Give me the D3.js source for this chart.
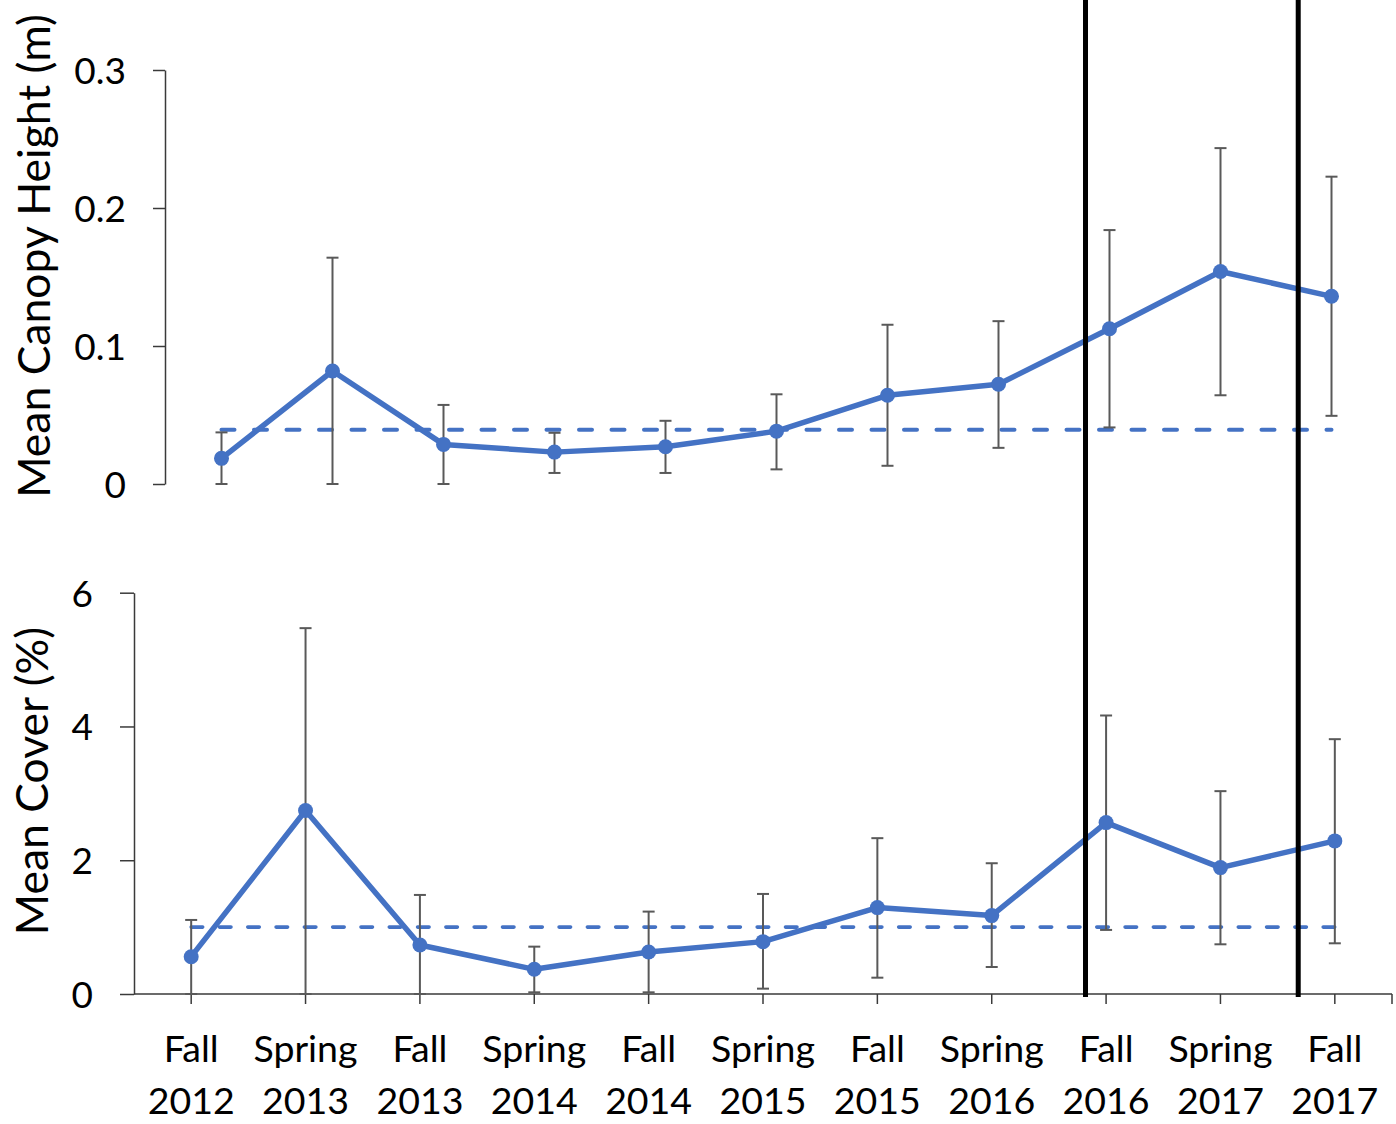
<!DOCTYPE html>
<html>
<head>
<meta charset="utf-8">
<script src="https://cdn.jsdelivr.net/npm/d3@7"></script>
<style>
  html, body { margin: 0; padding: 0; background: #fff; }
  svg { display: block; font-family: Lato, "Open Sans", sans-serif; }
</style>
</head>
<body>
<svg id="chart" width="1396" height="1124"></svg>
<script>
// ---- data ----
const seasons = ["Fall", "Spring", "Fall", "Spring", "Fall", "Spring", "Fall", "Spring", "Fall", "Spring", "Fall"];
const years   = ["2012", "2013", "2013", "2014", "2014", "2015", "2015", "2016", "2016", "2017", "2017"];

const heightMean = [0.0186, 0.0819, 0.0287, 0.0231, 0.0270, 0.0383, 0.0643, 0.0723, 0.1125, 0.1540, 0.1360];
const heightLow  = [0.0000, 0.0000, 0.0000, 0.0080, 0.0080, 0.0106, 0.0132, 0.0262, 0.0410, 0.0643, 0.0494];
const heightHigh = [0.0374, 0.1640, 0.0573, 0.0371, 0.0458, 0.0650, 0.1154, 0.1180, 0.1840, 0.2434, 0.2227];
const heightRef  = 0.0393;
const heightTicks = [0, 0.1, 0.2, 0.3];
const heightTickLabels = ["0", "0.1", "0.2", "0.3"];

const coverMean = [0.558, 2.743, 0.733, 0.369, 0.628, 0.783, 1.292, 1.172, 2.563, 1.890, 2.289];
const coverLow  = [0.000, 0.000, 0.000, 0.025, 0.025, 0.080, 0.244, 0.404, 0.958, 0.743, 0.758];
const coverHigh = [1.107, 5.470, 1.481, 0.708, 1.232, 1.496, 2.330, 1.955, 4.164, 3.033, 3.810];
const coverRef  = 1.0;
const coverTicks = [0, 2, 4, 6];
const coverTickLabels = ["0", "2", "4", "6"];

// dividers in category-index units (bottom panel)
const dividers = [7.82, 9.68];

// ---- styles ----
const BLUE = "#4472C4";
const ERR = "#595959";
const AXIS = "#3a3a3a";

const svg = d3.select("#chart");
const idx = d3.range(seasons.length);

// ---- scales ----
const xTop = d3.scaleLinear().domain([-0.5, 10.5]).range([166, 1387]);
const yTop = d3.scaleLinear().domain([0, 0.3]).range([484, 70]);
const xBot = d3.scaleLinear().domain([-0.5, 10.5]).range([134, 1392]);
const yBot = d3.scaleLinear().domain([0, 6]).range([994, 592.7]);

function panel(g, x, y, mean, low, high, ref, ticks, tickLabels, axisX, tickLen, labelX, dash, dashW) {
  const ax = d3.axisLeft(y).tickValues(ticks).tickSize(tickLen).tickSizeOuter(0)
    .tickFormat((d, i) => tickLabels[i]);
  const ag = g.append("g").attr("transform", `translate(${axisX},0)`).call(ax);
  ag.select(".domain").attr("stroke", AXIS).attr("stroke-width", 1.5);
  ag.selectAll(".tick line").attr("stroke", AXIS).attr("stroke-width", 1.5);
  ag.selectAll(".tick text")
    .attr("x", labelX - axisX)
    .attr("dy", "0.36em")
    .attr("fill", "#000")
    .style("font-size", "37px")
    .style("font-family", "Lato, sans-serif");

  g.append("line")
    .attr("x1", x(0)).attr("x2", x(mean.length - 1))
    .attr("y1", y(ref)).attr("y2", y(ref))
    .attr("stroke", BLUE).attr("stroke-width", dashW)
    .attr("stroke-dasharray", dash).attr("stroke-linecap", "round");

  const eb = g.append("g");
  eb.selectAll("line.v").data(idx).join("line")
    .attr("x1", i => x(i)).attr("x2", i => x(i))
    .attr("y1", i => y(low[i])).attr("y2", i => y(high[i]))
    .attr("stroke", ERR).attr("stroke-width", 2);
  eb.selectAll("line.capT").data(idx).join("line")
    .attr("x1", i => x(i) - 6).attr("x2", i => x(i) + 6)
    .attr("y1", i => y(high[i])).attr("y2", i => y(high[i]))
    .attr("stroke", ERR).attr("stroke-width", 2);
  eb.selectAll("line.capB").data(idx).join("line")
    .attr("x1", i => x(i) - 6).attr("x2", i => x(i) + 6)
    .attr("y1", i => y(low[i])).attr("y2", i => y(low[i]))
    .attr("stroke", ERR).attr("stroke-width", 2);

  g.append("path")
    .datum(idx)
    .attr("d", d3.line().x(i => x(i)).y(i => y(mean[i])))
    .attr("fill", "none").attr("stroke", BLUE).attr("stroke-width", 5.5)
    .attr("stroke-linejoin", "round");

  g.append("g").selectAll("circle").data(idx).join("circle")
    .attr("cx", i => x(i)).attr("cy", i => y(mean[i])).attr("r", 7.5)
    .attr("fill", BLUE);
}

const gTop = svg.append("g");
const gBot = svg.append("g");

const xAxisG = gBot.append("g").attr("transform", `translate(0,${yBot(0)})`);
xAxisG.append("line").attr("x1", xBot(-0.5)).attr("x2", xBot(10.5))
  .attr("y1", 0).attr("y2", 0).attr("stroke", AXIS).attr("stroke-width", 1.5);
xAxisG.selectAll("line.t").data(idx.concat([10.5])).join("line")
  .attr("x1", i => xBot(i)).attr("x2", i => xBot(i))
  .attr("y1", 0).attr("y2", 10).attr("stroke", AXIS).attr("stroke-width", 1.5);

panel(gTop, xTop, yTop, heightMean, heightLow, heightHigh, heightRef,
      heightTicks, heightTickLabels, 165, 12, 126, "13 19.5", 4);
panel(gBot, xBot, yBot, coverMean, coverLow, coverHigh, coverRef,
      coverTicks, coverTickLabels, 134, 14, 93, "11.5 16.8", 3.6);

const lab = svg.append("g").style("font-size", "37.5px").attr("fill", "#000").attr("text-anchor", "middle");
lab.selectAll("text.s").data(idx).join("text")
  .attr("x", i => xBot(i)).attr("y", 1062).text(i => seasons[i]);
lab.selectAll("text.y").data(idx).join("text")
  .attr("x", i => xBot(i)).attr("y", 1114).text(i => years[i]);

svg.append("text")
  .attr("transform", `translate(50,${256}) rotate(-90)`)
  .attr("text-anchor", "middle").style("font-size", "44.5px").attr("fill", "#000")
  .text("Mean Canopy Height (m)");
svg.append("text")
  .attr("transform", `translate(48,${781}) rotate(-90)`)
  .attr("text-anchor", "middle").style("font-size", "44.5px").attr("fill", "#000")
  .text("Mean Cover (%)");

svg.append("g").selectAll("line").data(dividers).join("line")
  .attr("x1", d => xBot(d)).attr("x2", d => xBot(d))
  .attr("y1", 0).attr("y2", 997)
  .attr("stroke", "#000").attr("stroke-width", 5);
</script>
</body>
</html>
